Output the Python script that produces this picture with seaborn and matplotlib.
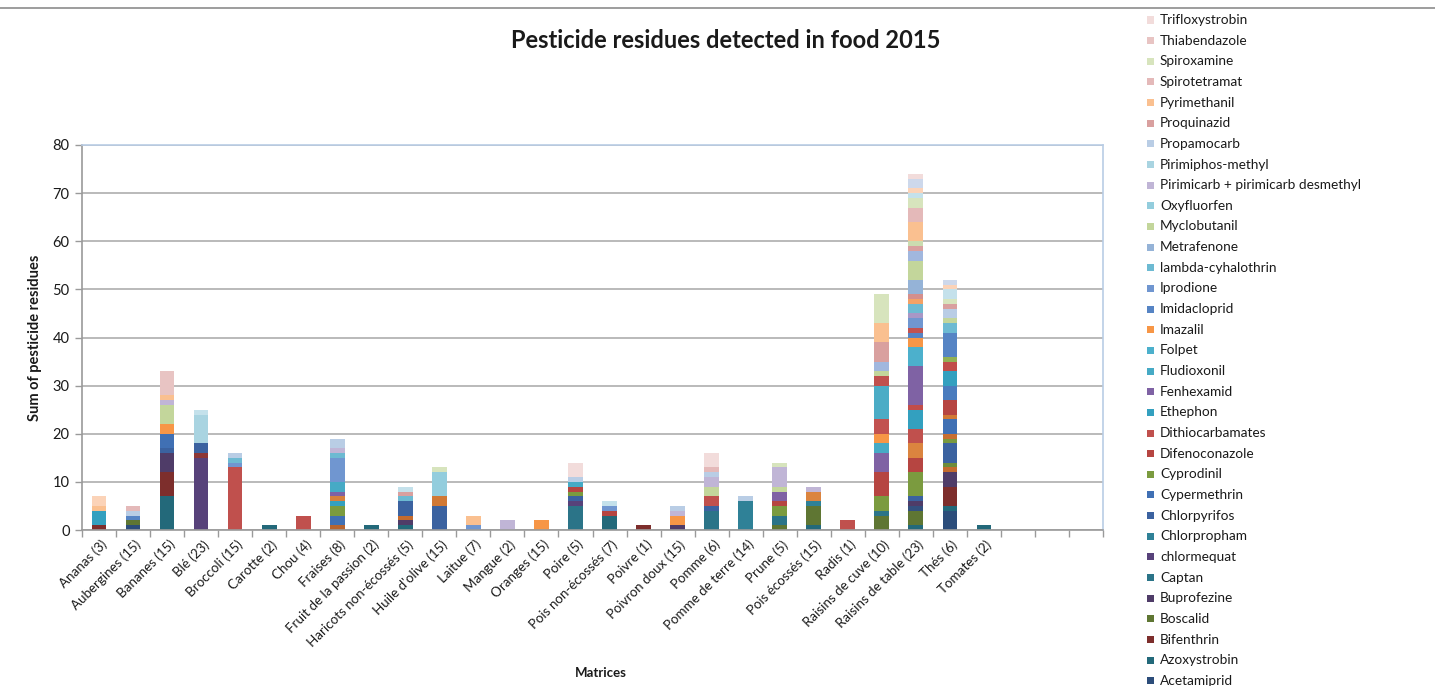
import matplotlib
matplotlib.use("Agg")
import matplotlib.pyplot as plt
from matplotlib.patches import Rectangle
from matplotlib.lines import Line2D
from matplotlib.transforms import ScaledTranslation
import pandas as pd
import seaborn as sns

# ---------------------------------------------------------------- data
matrix_labels = [
    "Ananas (3)", "Aubergines (15)", "Bananes (15)", "Blé (23)", "Broccoli (15)",
    "Carotte (2)", "Chou (4)", "Fraises (8)", "Fruit de la passion (2)",
    "Haricots non-écossés (5)", "Huile d'olive (15)", "Laitue (7)", "Mangue (2)",
    "Oranges (15)", "Poire (5)", "Pois non-écossés (7)", "Poivre (1)",
    "Poivron doux (15)", "Pomme (6)", "Pomme de terre (14)", "Prune (5)",
    "Pois écossés (15)", "Radis (1)", "Raisins de cuve (10)",
    "Raisins de table (23)", "Thés (6)", "Tomates (2)", "", "", "",
]

# detections per substance, one dict per matrix
ananas = {"Bifenthrin": 1, "Ethephon": 3, "Pyrimethanil": 1, "Tetraconazole": 2}
aubergines = {"Acetamiprid": 1, "Boscalid": 1, "Imidacloprid": 1,
              "Propamocarb": 1, "Spirotetramat": 1}
bananes = {"Azoxystrobin": 7, "Bifenthrin": 5, "Buprofezine": 4, "Chlorpyrifos": 1,
           "Cypermethrin": 3, "Imazalil": 2, "Myclobutanil": 4, "Pirimicarb": 1,
           "Pyrimethanil": 1, "Thiabendazole": 5}
ble = {"chlormequat": 15, "Chlorothalonil": 1, "Chlorpyrifos": 2,
       "Pirimiphos-methyl": 6, "Tebuconazole": 1}
broccoli = {"Dithiocarbamates": 13, "Iprodione": 1, "lambda-cyhalothrin": 1,
            "Propamocarb": 1}
carotte = {"Azoxystrobin": 1}
chou = {"Dithiocarbamates": 3}
fraises = {"Acrinathrin": 1, "Cypermethrin": 2, "Cyprodinil": 2, "Ethephon": 1,
           "Etoxazole": 1, "Fenhexamid": 1, "Fludioxonil": 2, "Iprodione": 5,
           "lambda-cyhalothrin": 1, "Pirimicarb": 1, "Propamocarb": 2}
fruit_passion = {"Azoxystrobin": 1}
haricots = {"Azoxystrobin": 1, "Buprofezine": 1, "Carbendazim": 1, "Chlorpyrifos": 3,
            "lambda-cyhalothrin": 1, "Proquinazid": 1, "Tebuconazole": 1}
huile_olive = {"Chlorpyrifos": 5, "Deltamethrin": 2, "Oxyfluorfen": 5, "Spiroxamine": 1}
laitue = {"Iprodione": 1, "Pyrimethanil": 2}
mangue = {"Pirimicarb": 2}
oranges = {"Imazalil": 2}
poire = {"Captan": 5, "chlormequat": 1, "Chlorpyrifos": 1, "Cyprodinil": 1,
         "Difenoconazole": 1, "Fludioxonil": 1, "Propamocarb": 1, "Trifloxystrobin": 3}
pois_non_ecosses = {"Azoxystrobin": 3, "Difenoconazole": 1, "Iprodione": 1,
                    "Tebuconazole": 1}
poivre = {"Bifenthrin": 1}
poivron_doux = {"Buprofezine": 1, "Imazalil": 2, "Pirimicarb": 1, "Propamocarb": 1}
pomme = {"Captan": 4, "Chlorpyrifos": 1, "Dithiocarbamates": 2, "Myclobutanil": 2,
         "Pirimicarb": 2, "Propamocarb": 1, "Spirotetramat": 1, "Trifloxystrobin": 3}
pomme_de_terre = {"Chlorpropham": 6, "Propamocarb": 1}
prune = {"Boscalid": 1, "Captan": 2, "Cyprodinil": 2, "Difenoconazole": 1,
         "Fenhexamid": 2, "Myclobutanil": 1, "Pirimicarb": 4, "Spiroxamine": 1}
pois_ecosses = {"Azoxystrobin": 1, "Boscalid": 4, "Chlorpropham": 1,
                "Dimethomorph": 2, "Pirimicarb": 1}
radis = {"Dithiocarbamates": 2}
raisins_cuve = {"Boscalid": 3, "Captan": 1, "Cyprodinil": 3, "Difenoconazole": 5,
                "Fenhexamid": 4, "Fludioxonil": 2, "Imazalil": 2, "Indoxacarb": 3,
                "Iprovalicarb": 7, "Meptyldinocap": 2, "Myclobutanil": 1,
                "Penconazole": 2, "Proquinazid": 4, "Pyrimethanil": 4, "Spiroxamine": 6}
raisins_table = {"Azoxystrobin": 1, "Boscalid": 3, "Bupirimate": 1, "Buprofezine": 1,
                 "Chlorpyrifos": 1, "Cyprodinil": 5, "Difenoconazole": 3,
                 "Dimethomorph": 3, "Dithiocarbamates": 3, "Ethephon": 4,
                 "Fenbuconazole": 1, "Fenhexamid": 8, "Folpet": 4, "Imazalil": 2,
                 "Imidacloprid": 1, "Indoxacarb": 1, "Iprodione": 2,
                 "Kresoxim-methyl": 1, "lambda-cyhalothrin": 2, "Mandipropamid": 1,
                 "Mepanipyrim": 1, "Metrafenone": 3, "Myclobutanil": 4,
                 "Penconazole": 2, "Proquinazid": 1, "Pyraclostrobin": 1,
                 "Pyrimethanil": 4, "Spirotetramat": 3, "Spiroxamine": 2,
                 "Tebuconazole": 1, "Tetraconazole": 1, "Thiacloprid": 2,
                 "Trifloxystrobin": 1}
thes = {"Acetamiprid": 4, "Azoxystrobin": 1, "Bifenthrin": 4, "Buprofezine": 3,
        "Carbendazim": 1, "Chlorfenapyr": 1, "Chlorpyrifos": 4, "Clothianidin": 1,
        "Cyflufenamid": 1, "Cypermethrin": 3, "Deltamethrin": 1, "Difenoconazole": 3,
        "Dinotefuran": 3, "Ethephon": 3, "Fenbuconazole": 2, "Hexythiazox": 1,
        "Imidacloprid": 5, "lambda-cyhalothrin": 2, "Myclobutanil": 1,
        "Propamocarb": 2, "Proquinazid": 1, "Spiroxamine": 1, "Tebuconazole": 2,
        "Tetraconazole": 1, "Thiacloprid": 1}
tomates = {"Azoxystrobin": 1}

matrices = [ananas, aubergines, bananes, ble, broccoli, carotte, chou, fraises,
            fruit_passion, haricots, huile_olive, laitue, mangue, oranges, poire,
            pois_non_ecosses, poivre, poivron_doux, pomme, pomme_de_terre, prune,
            pois_ecosses, radis, raisins_cuve, raisins_table, thes, tomates]

# substances, bottom of the stack first
substances = [
    "Acetamiprid", "Acrinathrin", "Azoxystrobin", "Bifenthrin", "Boscalid",
    "Bupirimate", "Buprofezine", "Captan", "Carbendazim", "Chlorfenapyr",
    "chlormequat", "Chlorothalonil", "Chlorpropham", "Chlorpyrifos", "Clothianidin",
    "Cyflufenamid", "Cypermethrin", "Cyprodinil", "Deltamethrin", "Difenoconazole",
    "Dimethomorph", "Dinotefuran", "Dithiocarbamates", "Ethephon", "Etoxazole",
    "Fenbuconazole", "Fenhexamid", "Fludioxonil", "Folpet", "Hexythiazox",
    "Imazalil", "Imidacloprid", "Indoxacarb", "Iprodione", "Iprovalicarb",
    "Kresoxim-methyl", "lambda-cyhalothrin", "Mandipropamid", "Mepanipyrim",
    "Meptyldinocap", "Metrafenone", "Myclobutanil", "Oxyfluorfen", "Penconazole",
    "Pirimicarb", "Pirimiphos-methyl", "Propamocarb", "Proquinazid",
    "Pyraclostrobin", "Pyrimethanil", "Spirotetramat", "Spiroxamine",
    "Tebuconazole", "Tetraconazole", "Thiabendazole", "Thiacloprid",
    "Trifloxystrobin",
]
colours = [
    "#2C4D7A", "#B8652F", "#23697A", "#7D2E2C", "#5F7633",
    "#33507F", "#4F3C68", "#2B7488", "#C46B2E", "#6E8C3A",
    "#57427A", "#8D3736", "#2F8197", "#3B62A0", "#79993F",
    "#C86F31", "#4070B4", "#7B9B3F", "#D17935", "#B64541",
    "#DB843F", "#4A7CBE", "#C0504D", "#33A0BF", "#D7803C",
    "#C14D4A", "#7F62A4", "#46AAC5", "#4CB0CC", "#92B155",
    "#F79646", "#5684C4", "#C25250", "#7096D0", "#4BACC6",
    "#A897C6", "#6DBAD2", "#F4A266", "#D48F8D",
    "#C0504D", "#95B3D7", "#C3D69B", "#93CDDD", "#A1B7DE",
    "#C0B5D6", "#A9D4E1", "#B9CDE5", "#D9A09F",
    "#CBDCB0", "#FAC090", "#E4B9B9", "#D7E4BD",
    "#C4E1EB", "#FBD3B8", "#E8C4C3", "#CDD8EB",
    "#F2DCDB",
]
palette = dict(zip(substances, colours))

legend_names = [
    "Trifloxystrobin", "Thiabendazole", "Spiroxamine", "Spirotetramat",
    "Pyrimethanil", "Proquinazid", "Propamocarb", "Pirimiphos-methyl",
    "Pirimicarb + pirimicarb desmethyl", "Oxyfluorfen", "Myclobutanil",
    "Metrafenone", "lambda-cyhalothrin", "Iprodione", "Imidacloprid", "Imazalil",
    "Folpet", "Fludioxonil", "Fenhexamid", "Ethephon", "Dithiocarbamates",
    "Difenoconazole", "Cyprodinil", "Cypermethrin", "Chlorpyrifos", "Chlorpropham",
    "chlormequat", "Captan", "Buprofezine", "Boscalid", "Bifenthrin",
    "Azoxystrobin", "Acetamiprid",
]
legend_keys = {"Pirimicarb + pirimicarb desmethyl": "Pirimicarb"}

rows = [(i, name, n) for i, counts in enumerate(matrices) for name, n in counts.items()]
df = pd.DataFrame(rows, columns=["pos", "substance", "n"])

# ---------------------------------------------------------------- style
sns.set_theme(style="white")
plt.rcParams["font.family"] = ["Lato", "DejaVu Sans"]
text_col = "#1a1a1a"
grid_col = "#B4B4B4"
axis_col = "#9A9A9A"

W, H = 1435, 686
fig = plt.figure(figsize=(W / 100, H / 100), dpi=100)
px = lambda x, y: (x / W, 1 - y / H)

left, right, top, bottom = 82, 1103, 145, 530
ax = fig.add_axes([left / W, 1 - bottom / H, (right - left) / W, (bottom - top) / H])

sns.histplot(
    data=df, x="pos", weights="n", hue="substance",
    hue_order=substances[::-1], palette=palette,
    multiple="stack", discrete=True, shrink=0.43,
    linewidth=0, alpha=1, legend=False, ax=ax,
)

n_slots = len(matrix_labels)
ax.set_xlim(-0.5, n_slots - 0.5)
ax.set_ylim(0, 80)
ax.set_yticks(range(0, 81, 10))
ax.tick_params(axis="y", labelsize=10.5, colors=axis_col, labelcolor=text_col,
               length=5, width=1, direction="out", pad=4, left=True)
ax.set_xticks(range(n_slots))
ax.set_xticklabels(matrix_labels, rotation=45, ha="right", va="center",
                   rotation_mode="anchor", fontsize=9.6, color=text_col)
ax.tick_params(axis="x", which="major", length=0, pad=9)
shift = ScaledTranslation(6 / 100, 0, fig.dpi_scale_trans)
for lbl in ax.get_xticklabels():
    lbl.set_transform(lbl.get_transform() + shift)
ax.set_xticks([k + 0.5 for k in range(-1, n_slots)], minor=True)
ax.tick_params(axis="x", which="minor", length=5, width=1, color=axis_col,
               direction="out", bottom=True)

ax.yaxis.grid(True, color=grid_col, linewidth=1.3)
ax.xaxis.grid(False)
ax.set_axisbelow(True)
for side in ("left", "bottom"):
    ax.spines[side].set_color(axis_col)
    ax.spines[side].set_linewidth(1.2)
for side in ("top", "right"):
    ax.spines[side].set_color("#B9CDE5")
    ax.spines[side].set_linewidth(1.2)

ax.set_ylabel("Sum of pesticide residues", fontsize=10.5, fontweight="bold", color=text_col)
ax.yaxis.set_label_coords((42 - left) / (right - left), 0.5)
ax.set_xlabel("Matrices", fontsize=9.5, fontweight="bold", color=text_col)
ax.xaxis.set_label_coords((601 - left) / (right - left), (bottom - 667) / (bottom - top))

fig.text(*px(726, 40), "Pesticide residues detected in food 2015", ha="center",
         va="center", fontsize=17, fontweight="bold", color=text_col)

# chart frame line along the top edge
fig.add_artist(Line2D([0, 1], [1 - 7.5 / H] * 2, transform=fig.transFigure,
                      color="#8C8C8C", linewidth=1.2))

# legend: one row per substance, running past the bottom edge
y0, step = 20.0, 20.65
for i, name in enumerate(legend_names):
    yc = y0 + i * step
    key = legend_keys.get(name, name)
    fig.add_artist(Rectangle(px(1147, yc + 3.5), 7 / W, 7 / H,
                             transform=fig.transFigure, color=palette[key], lw=0))
    fig.text(*px(1160, yc), name, ha="left", va="center", fontsize=9.8,
             color=text_col)

fig.savefig("out.png", dpi=100)
